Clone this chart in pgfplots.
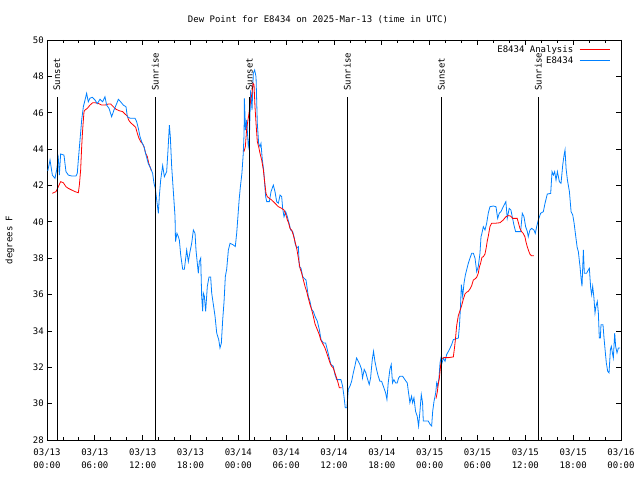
\documentclass[border=0pt]{standalone}
\usepackage{pgfplots}
\pgfplotsset{compat=1.18}
\usepackage{fontspec}
\setmainfont{DejaVu Sans Mono}
\definecolor{ublue}{RGB}{0,128,255}
\definecolor{ured}{RGB}{255,0,0}
\begin{document}
\fontsize{9}{10}\selectfont
\begin{tikzpicture}
\path[use as bounding box] (-47pt,-40pt) rectangle (593pt,440pt);
\begin{axis}[
  scale only axis, width=574pt, height=400pt,
  xmin=0, xmax=72, ymin=28, ymax=50,
  xtick={0,6,...,72}, minor x tick num=2,
  ytick={28,30,...,50},
  xticklabels={{03/13\\00:00},{03/13\\06:00},{03/13\\12:00},{03/13\\18:00},{03/14\\00:00},{03/14\\06:00},{03/14\\12:00},{03/14\\18:00},{03/15\\00:00},{03/15\\06:00},{03/15\\12:00},{03/15\\18:00},{03/16\\00:00}},
  tick align=inside, major tick length=5pt, minor tick length=3pt,
  axis line style={line width=0.8pt},
  every tick/.style={black, line width=0.8pt},
  xticklabel style={align=center, font=\fontsize{9}{13}\selectfont, yshift=-6pt},
  yticklabel style={font=\fontsize{9}{10}\selectfont},
  /pgf/number format/assume math mode=true,
  legend cell align=right,
  legend plot pos=right,
  legend image code/.code={\path (0pt,0pt); \draw[#1] (4pt,0pt) -- (34pt,0pt);},
  legend style={at={(rel axis cs:0.983,0.995)}, anchor=north east, draw=none, fill=none,
    font=\fontsize{9}{10}\selectfont, row sep=-1pt, inner sep=1pt},
]
% Analysis (red)
\addplot[ured, line width=0.8pt] coordinates {
(0.67,41.57) (1.13,41.66) (1.42,41.93) (1.71,42.21) (2.05,42.15) (2.38,41.93) (2.68,41.84) (3.09,41.75) (3.51,41.66) (3.93,41.6) (4.06,42.02) (4.22,42.85) (4.35,44.13) (4.47,45.05) (4.64,46.06) (4.77,46.15) (5.06,46.24) (5.39,46.42) (5.73,46.55) (6.02,46.55) (6.44,46.51) (6.86,46.42) (7.27,46.42) (7.69,46.48) (7.99,46.48) (8.32,46.33) (8.66,46.19) (9.07,46.11) (9.49,46.06) (9.78,45.93) (10.08,45.82) (10.24,45.6) (10.49,45.45) (10.83,45.32) (11.12,45.2) (11.33,44.87) (11.54,44.59) (11.75,44.41) (11.96,44.31) (12.17,44.13) (12.38,43.76) (12.59,43.58) (12.76,43.22) (12.92,43.03) (13.1,42.8)
};
\addlegendentry{E8434 Analysis}
\addplot[ublue, line width=0.8pt] coordinates {
(0.1,42.8) (0.38,43.4) (0.67,42.57) (1.0,42.39) (1.21,42.85) (1.42,43.49) (1.55,42.57) (1.71,43.73) (2.13,43.67) (2.38,42.76) (2.68,42.57) (3.09,42.52) (3.64,42.52) (3.8,42.67) (3.93,43.4) (4.14,44.5) (4.35,45.6) (4.56,46.33) (4.77,46.7) (4.97,47.07) (5.18,46.6) (5.39,46.8) (5.69,46.85) (6.02,46.7) (6.31,46.5) (6.65,46.74) (6.98,46.6) (7.27,46.88) (7.48,46.42) (7.78,46.24) (8.11,45.78) (8.4,46.15) (8.74,46.5) (8.95,46.74) (9.24,46.6) (9.57,46.42) (9.91,46.33) (10.08,45.78) (10.41,45.7) (11.04,45.7) (11.25,45.5) (11.46,45.14) (11.67,44.68) (11.87,44.41) (12.17,44.13) (12.42,43.67) (12.71,43.2) (13.0,42.94) (13.25,42.67) (13.42,42.12) (13.59,41.84) (13.76,41.2) (13.97,40.47) (14.09,41.4) (14.26,42.3) (14.51,43.1) (14.72,42.48) (15.01,42.76) (15.18,43.95) (15.35,45.32) (15.47,44.68) (15.64,43.03) (15.85,41.66) (16.06,40.28) (16.12,38.91) (16.3,39.37) (16.48,39.18) (16.6,39.0) (16.77,38.18) (17.02,37.39) (17.23,37.39) (17.4,38.0) (17.52,38.45) (17.73,37.81) (17.94,38.36) (18.15,38.82) (18.36,39.55) (18.57,39.37) (18.69,38.45) (18.98,37.17) (19.11,37.81) (19.28,38.0) (19.4,35.9) (19.53,35.07) (19.61,36.08) (19.74,35.9) (19.9,35.07) (20.11,36.45) (20.32,36.96) (20.53,36.96) (20.66,36.08) (20.87,35.44) (21.08,34.8) (21.29,33.88) (21.54,33.52) (21.7,33.06) (21.87,33.33) (22.04,34.62) (22.21,35.62) (22.37,36.99) (22.54,37.39) (22.75,38.45) (22.96,38.82) (23.37,38.73) (23.62,38.64) (23.8,39.4) (23.95,40.3) (24.1,41.2) (24.25,41.9) (24.45,42.67) (24.62,43.77) (24.72,44.87) (24.76,46.79) (24.9,45.05) (25.05,45.6) (25.25,44.13) (25.38,44.5) (25.55,47.25) (25.72,46.15) (25.88,48.17) (26.05,48.35) (26.22,47.98) (26.38,45.42) (26.55,44.31) (26.72,44.13) (26.84,44.31) (27.01,43.4) (27.18,42.85) (27.3,42.12) (27.43,41.38) (27.56,41.11) (27.89,41.11) (28.1,41.66) (28.39,42.02) (28.6,41.66) (28.81,41.11) (29.02,41.02) (29.23,41.47) (29.44,41.38) (29.56,40.74) (29.73,40.28) (29.94,40.56) (30.15,40.28) (30.36,39.92) (30.57,39.55) (30.82,39.46) (31.03,39.09) (31.11,38.82) (31.32,38.55) (31.53,38.64) (31.65,37.54) (31.86,37.45) (32.07,36.99) (32.24,36.9) (32.49,36.8) (32.78,35.89) (32.99,35.62) (33.2,35.17) (33.41,35.07) (33.62,34.8) (33.91,34.53) (34.16,34.07) (34.37,33.52) (34.66,33.34) (34.95,33.34) (35.16,32.97) (35.41,32.51) (35.62,32.15) (35.91,32.06) (36.12,31.6) (36.33,31.32) (36.87,31.32) (37.08,30.96) (37.25,30.41) (37.41,29.77) (37.62,29.77) (37.79,30.78) (38.0,30.96) (38.21,31.23) (38.42,31.69) (38.62,32.06) (38.83,32.51) (39.04,32.33) (39.25,32.15) (39.46,31.88) (39.58,31.41) (39.79,31.88) (40.0,31.69) (40.17,31.41) (40.42,31.05) (40.59,31.41) (40.8,32.42) (40.96,32.88) (41.13,32.33) (41.34,31.88) (41.55,31.51) (41.76,31.23) (41.97,31.23) (42.26,30.87) (42.47,30.6) (42.64,30.23) (42.8,31.14) (43.01,31.88) (43.18,32.15) (43.34,31.14) (43.51,31.32) (43.72,31.14) (43.93,31.14) (44.1,31.41) (44.27,31.51) (44.6,31.51) (44.89,31.32) (45.19,31.14) (45.35,30.6) (45.52,30.05) (45.73,30.41) (45.86,30.05) (46.03,30.32) (46.23,29.58) (46.44,29.31) (46.61,28.76) (46.78,29.58) (46.95,30.5) (47.11,30.05) (47.2,29.04) (47.83,29.04) (48.05,28.86) (48.25,28.77) (48.38,29.58) (48.55,30.14) (48.76,30.6) (48.88,31.14) (49.0,30.96) (49.17,31.41) (49.3,32.24) (49.42,32.51) (49.55,32.24) (49.72,32.51) (49.93,32.33) (50.13,32.7) (50.47,32.97) (50.76,33.25) (50.97,33.52) (51.6,33.61) (51.73,34.25) (51.85,35.17) (51.98,36.54) (52.14,35.89) (52.31,36.63) (52.48,37.08) (52.64,37.36) (52.85,37.72) (53.06,38.0) (53.27,38.27) (53.48,38.27) (53.69,38.0) (53.9,37.26) (54.1,37.54) (54.31,38.27) (54.44,39.18) (54.52,39.3) (54.73,39.73) (54.94,39.55) (55.15,39.92) (55.35,40.47) (55.56,40.83) (55.98,40.87) (56.32,40.83) (56.53,40.19) (56.73,40.47) (56.94,40.56) (57.23,40.83) (57.56,41.11) (57.73,40.19) (57.98,40.74) (58.19,40.65) (58.36,40.28) (58.57,39.82) (58.78,39.46) (59.41,39.46) (59.62,40.47) (59.83,40.28) (60.04,39.73) (60.25,39.46) (60.37,39.18) (60.58,39.55) (60.79,39.64) (61.08,39.55) (61.25,39.36) (61.42,39.73) (61.63,40.1) (61.92,40.47) (62.26,40.56) (62.47,41.02) (62.76,41.53) (63.18,41.56) (63.35,42.76) (63.52,42.57) (63.68,42.76) (63.85,42.3) (64.02,42.76) (64.27,42.21) (64.48,42.12) (64.69,43.12) (64.86,43.67) (64.98,43.95) (65.11,42.94) (65.28,42.3) (65.53,41.66) (65.74,40.56) (65.95,40.37) (66.12,39.92) (66.33,39.18) (66.5,38.6) (66.65,38.36) (66.86,37.54) (66.99,36.9) (67.11,36.45) (67.28,38.45) (67.4,37.17) (67.69,37.17) (67.9,37.35) (68.03,37.45) (68.2,36.35) (68.32,35.99) (68.45,36.45) (68.61,35.8) (68.74,34.98) (68.86,35.35) (69.03,35.62) (69.16,34.98) (69.28,33.61) (69.41,33.61) (69.49,34.34) (69.74,34.34) (69.87,33.61) (70.04,32.79) (70.16,32.24) (70.33,31.78) (70.5,31.69) (70.67,32.97) (70.79,33.15) (70.92,32.79) (71.04,32.51) (71.21,33.88) (71.33,33.15) (71.5,32.79) (71.67,33.06) (71.9,33.06)
};
\addlegendentry{E8434}
% Analysis segments 2 and 3
\addplot[ured, line width=0.8pt, forget plot] coordinates {
(24.71,43.86) (24.88,44.13) (25.05,45.14) (25.21,45.6) (25.34,45.97) (25.46,46.42) (25.59,46.79) (25.72,47.07) (25.84,47.62) (25.97,47.53) (26.09,46.33) (26.22,45.42) (26.38,44.41) (26.55,44.13) (26.72,43.77) (26.93,43.4) (27.14,42.85) (27.3,42.21) (27.47,41.56) (27.64,41.38) (27.89,41.29) (28.18,41.2) (28.6,41.02) (29.02,40.83) (29.44,40.74) (29.73,40.65) (29.98,40.37) (30.15,40.1) (30.32,39.92) (30.48,39.64) (30.69,39.55) (30.9,39.27) (31.11,38.91) (31.32,38.55) (31.53,38.0) (31.74,37.45) (31.95,37.17) (32.16,36.8) (32.37,36.44) (32.57,36.17) (32.78,35.8) (32.99,35.44) (33.2,35.17) (33.41,34.8) (33.62,34.38) (33.91,34.07) (34.16,33.79) (34.33,33.52) (34.66,33.24) (34.87,33.06) (35.08,32.79) (35.29,32.51) (35.5,32.24) (35.7,32.06) (35.91,31.96) (36.12,31.69) (36.33,31.41) (36.54,31.1) (36.67,30.87) (36.96,30.87)
};
\addplot[ured, line width=0.8pt, forget plot] coordinates {
(48.8,30.28) (48.96,30.65) (49.09,31.1) (49.21,31.38) (49.38,32.11) (49.51,32.48) (49.8,32.53) (50.34,32.53) (50.97,32.57) (51.1,33.02) (51.22,33.48) (51.39,34.3) (51.6,34.85) (51.81,35.12) (52.02,35.4) (52.23,35.76) (52.44,36.04) (52.64,36.13) (52.85,36.18) (53.06,36.31) (53.27,36.49) (53.48,36.8) (53.69,36.86) (53.9,36.95) (54.1,37.17) (54.23,37.5) (54.39,37.72) (54.56,38.05) (54.73,38.08) (54.94,38.23) (55.1,38.59) (55.23,38.96) (55.35,39.2) (55.56,39.73) (55.77,39.92) (56.19,39.92) (56.82,39.95) (57.23,40.1) (57.56,40.28) (57.86,40.34) (58.15,40.32) (58.4,40.19) (58.69,40.19) (58.98,40.19) (59.15,39.92) (59.32,39.64) (59.53,39.46) (59.74,39.36) (59.95,39.18) (60.08,38.9) (60.25,38.62) (60.42,38.4) (60.58,38.22) (60.79,38.13) (61.08,38.13)
};
% sunrise / sunset lines
\addplot[black, line width=0.8pt, forget plot] coordinates {(1.25,28) (1.25,46.85)};
\addplot[black, line width=0.8pt, forget plot] coordinates {(13.58,28) (13.58,46.85)};
\addplot[black, line width=0.8pt, forget plot] coordinates {(25.38,28) (25.38,46.85)};
\addplot[black, line width=0.8pt, forget plot] coordinates {(37.67,28) (37.67,46.85)};
\addplot[black, line width=0.8pt, forget plot] coordinates {(49.46,28) (49.46,46.85)};
\addplot[black, line width=0.8pt, forget plot] coordinates {(61.63,28) (61.63,46.85)};
\node[rotate=90, anchor=west, inner sep=0pt, xshift=1pt] at (axis cs:1.25,47.15) {Sunset};
\node[rotate=90, anchor=west, inner sep=0pt, xshift=1pt] at (axis cs:13.58,47.15) {Sunrise};
\node[rotate=90, anchor=west, inner sep=0pt, xshift=1pt] at (axis cs:25.38,47.15) {Sunset};
\node[rotate=90, anchor=west, inner sep=0pt, xshift=1pt] at (axis cs:37.67,47.15) {Sunrise};
\node[rotate=90, anchor=west, inner sep=0pt, xshift=1pt] at (axis cs:49.46,47.15) {Sunset};
\node[rotate=90, anchor=west, inner sep=0pt, xshift=1pt] at (axis cs:61.63,47.15) {Sunrise};
\end{axis}
\node at (271pt,420pt) {Dew Point for E8434 on 2025-Mar-13 (time in UTC)};
\node[rotate=90] at (-37pt,200pt) {degrees F};
\end{tikzpicture}
\end{document}
